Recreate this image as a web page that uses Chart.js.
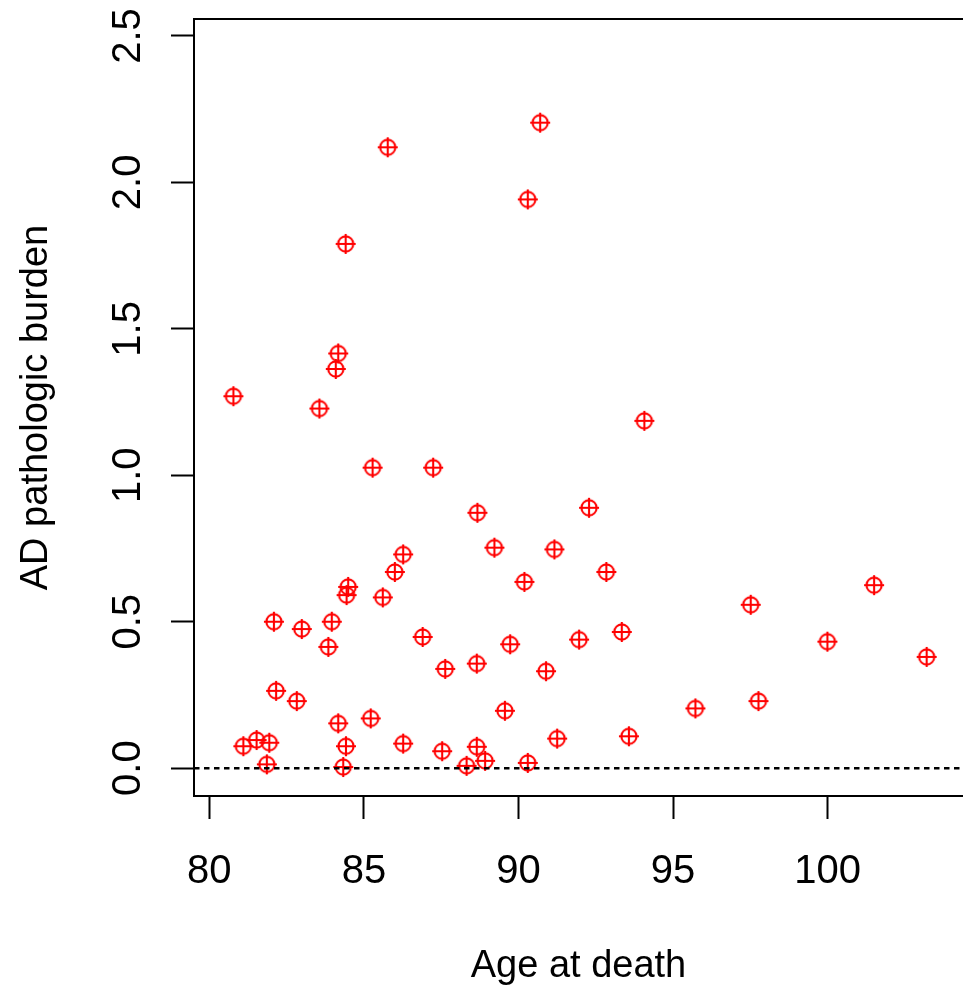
<!DOCTYPE html>
<html>
<head>
<meta charset="utf-8">
<title>AD pathologic burden by age at death</title>
<script src="https://cdn.jsdelivr.net/npm/chart.js@4.4.1/dist/chart.umd.min.js"></script>
<style>
  html, body { margin: 0; padding: 0; overflow: hidden; background: #fff; }
  #wrap { width: 963px; height: 989px; position: relative; }
</style>
</head>
<body>
<div id="wrap"><canvas id="chart"></canvas></div>
<script>
// Age at death (years) for each subject
const ageAtDeath = [
  80.78, 84.17, 84.09, 83.56, 85.28, 87.24, 86.27, 86.00, 84.49, 84.44,
  85.61, 82.09, 82.99, 83.96, 83.85, 86.90, 87.63, 82.16, 82.83, 84.17,
  85.22, 81.10, 81.53, 81.94, 81.86, 84.42, 84.33, 86.27, 87.53, 88.67,
  92.28, 89.22, 91.16, 90.19, 92.84, 88.65, 89.73, 91.96, 93.34, 90.89,
  89.56, 91.25, 93.57, 95.72, 88.65, 88.92, 88.32, 90.30, 94.07, 97.51,
  101.50, 99.99, 103.20, 97.76, 85.77, 90.70, 90.30, 84.41
];

// AD pathologic burden score for the same subjects
const adBurden = [
  1.270, 1.416, 1.363, 1.228, 1.026, 1.026, 0.730, 0.670, 0.619, 0.591,
  0.583, 0.500, 0.475, 0.500, 0.414, 0.448, 0.339, 0.264, 0.229, 0.153,
  0.170, 0.075, 0.096, 0.087, 0.013, 0.075, 0.004, 0.084, 0.058, 0.872,
  0.889, 0.753, 0.747, 0.636, 0.670, 0.357, 0.423, 0.439, 0.465, 0.331,
  0.196, 0.101, 0.109, 0.204, 0.073, 0.025, 0.008, 0.018, 1.186, 0.558,
  0.625, 0.432, 0.380, 0.229, 2.120, 2.204, 1.942, 1.790
];

const xTickValues = [80, 85, 90, 95, 100];
const yTickValues = [0, 0.5, 1.0, 1.5, 2.0, 2.5];
const xLimits = [79.505, 104.375];
const yLimits = [-0.095, 2.558];
const referenceLevel = 0;

const FONT = '"Liberation Sans", Arial, Helvetica, sans-serif';

// circle-plus marker drawn once into an offscreen canvas
function makeMarker() {
  const c = document.createElement('canvas');
  c.width = 24; c.height = 24;
  const g = c.getContext('2d');
  g.strokeStyle = '#ff0000';
  g.lineWidth = 2.1;
  g.beginPath();
  g.arc(12, 12, 7.6, 0, Math.PI * 2);
  g.stroke();
  g.beginPath();
  g.moveTo(2, 12); g.lineTo(22, 12);
  g.moveTo(12, 2); g.lineTo(12, 22);
  g.stroke();
  return c;
}

// frame around the plotting region; its right side runs just past the canvas edge
const boxPlugin = {
  id: 'plotBox',
  afterDatasetsDraw(chart) {
    const { ctx, chartArea: a } = chart;
    ctx.save();
    ctx.strokeStyle = '#000';
    ctx.lineWidth = 2;
    ctx.strokeRect(a.left, a.top, chart.width + 2 - a.left, a.bottom - a.top);
    ctx.restore();
  }
};

const points = ageAtDeath.map((x, i) => ({ x, y: adBurden[i] }));

new Chart(document.getElementById('chart'), {
  type: 'scatter',
  data: {
    datasets: [
      {
        label: 'subjects',
        data: points,
        pointStyle: makeMarker(),
        pointRadius: 10,
        pointHoverRadius: 10,
        order: 2
      },
      {
        type: 'line',
        label: 'zero',
        data: [{ x: xLimits[0], y: referenceLevel }, { x: xLimits[1], y: referenceLevel }],
        borderColor: '#000',
        borderWidth: 2.4,
        borderDash: [5.5, 4.5],
        pointRadius: 0,
        fill: false,
        order: 1
      }
    ]
  },
  options: {
    responsive: true,
    maintainAspectRatio: false,
    animation: false,
    events: [],
    layout: { autoPadding: false, padding: { top: 19, right: 0, left: 0, bottom: 0 } },
    plugins: {
      legend: { display: false },
      tooltip: { enabled: false }
    },
    scales: {
      x: {
        type: 'linear',
        position: 'bottom',
        min: xLimits[0],
        max: xLimits[1],
        afterBuildTicks: s => { s.ticks = xTickValues.map(v => ({ value: v })); },
        afterFit: s => { s.height = 193; s.paddingLeft = 0; s.paddingRight = 0; },
        border: { display: false },
        grid: {
          drawOnChartArea: false,
          drawTicks: true,
          tickLength: 23,
          tickWidth: 2,
          tickColor: '#000'
        },
        ticks: {
          autoSkip: false,
          maxRotation: 0,
          minRotation: 0,
          padding: 29,
          color: '#000',
          font: { family: FONT, size: 40 },
          callback: v => String(v)
        },
        title: {
          display: true,
          text: 'Age at death',
          color: '#000',
          font: { family: FONT, size: 38 },
          padding: { top: 0, bottom: 0 }
        }
      },
      y: {
        type: 'linear',
        position: 'left',
        min: yLimits[0],
        max: yLimits[1],
        afterBuildTicks: s => { s.ticks = yTickValues.map(v => ({ value: v })); },
        afterFit: s => { s.width = 194; s.paddingTop = 0; s.paddingBottom = 0; },
        border: { display: false },
        grid: {
          drawOnChartArea: false,
          drawTicks: true,
          tickLength: 23,
          tickWidth: 2,
          tickColor: '#000'
        },
        ticks: {
          autoSkip: false,
          minRotation: 90,
          maxRotation: 90,
          crossAlign: 'center',
          padding: 14,
          color: '#000',
          font: { family: FONT, size: 40 },
          callback: v => Number(v).toFixed(1)
        },
        title: {
          display: true,
          text: 'AD pathologic burden',
          color: '#000',
          font: { family: FONT, size: 38 },
          padding: { top: 14, bottom: 0 }
        }
      }
    }
  },
  plugins: [boxPlugin]
});
</script>
</body>
</html>
